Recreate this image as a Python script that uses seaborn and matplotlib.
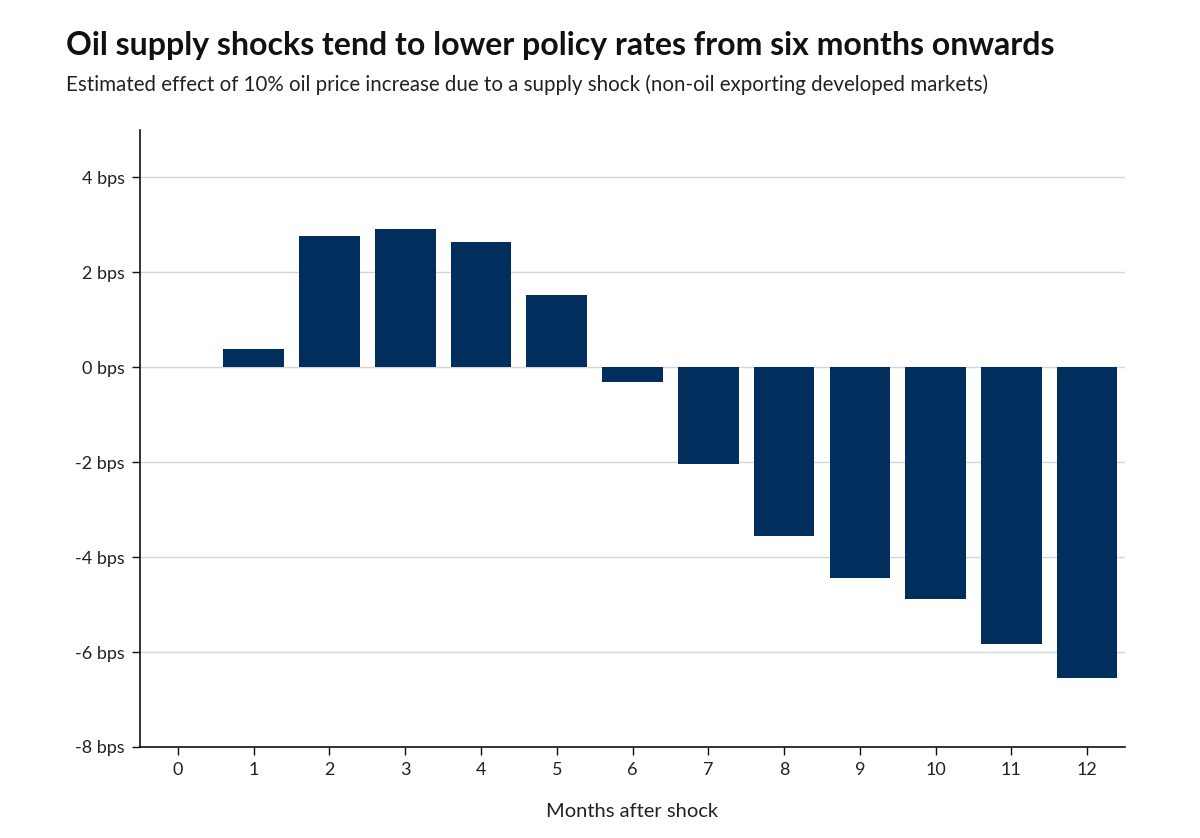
import matplotlib
matplotlib.use('Agg')
import matplotlib.pyplot as plt
import pandas as pd
import seaborn as sns

# months after the shock and estimated effect on policy rates (bps)
months = [0, 1, 2, 3, 4, 5, 6, 7, 8, 9, 10, 11, 12]
effect_bps = [0, 0.38, 2.76, 2.91, 2.65, 1.52, -0.31, -2.04, -3.56, -4.44, -4.88, -5.83, -6.55]
y_ticks = [4, 2, 0, -2, -4, -6, -8]

bar_color = '#002e5d'

sns.set_theme(style='white')
plt.rcParams['font.family'] = ['Lato', 'DejaVu Sans']

df = pd.DataFrame({'month': months, 'effect': effect_bps})

fig = plt.figure(figsize=(12, 8.38), dpi=100)
ax = fig.add_axes([0.1167, 0.1086, 0.8208, 0.7363])

sns.barplot(data=df, x='month', y='effect', color=bar_color, saturation=1,
            width=0.8, linewidth=0, ax=ax)

ax.set_ylim(-8, 5)
ax.set_xlim(-0.5, 12.5)
ax.set_yticks(y_ticks)
ax.set_yticklabels([f'{v} bps' for v in y_ticks])

# style
ax.yaxis.grid(True, color='#d6d6d6', linewidth=1)
ax.set_axisbelow(True)
for side in ['top', 'right']:
    ax.spines[side].set_visible(False)
for side in ['left', 'bottom']:
    ax.spines[side].set_color('#111111')
    ax.spines[side].set_linewidth(1.2)
ax.tick_params(axis='both', which='both', length=6, width=1, color='#111111',
               labelsize=13, labelcolor='#222222', direction='out',
               left=True, bottom=True, pad=5)

ax.set_xlabel('Months after shock', fontsize=14.5, color='#222222', labelpad=18)
ax.set_ylabel('')

fig.text(0.055, 0.946, 'Oil supply shocks tend to lower policy rates from six months onwards',
         fontsize=23, fontweight='bold', color='#111111', va='center')
fig.text(0.055, 0.899, 'Estimated effect of 10% oil price increase due to a supply shock (non-oil exporting developed markets)',
         fontsize=14.8, color='#222222', va='center')

plt.savefig('out.png', dpi=100)
